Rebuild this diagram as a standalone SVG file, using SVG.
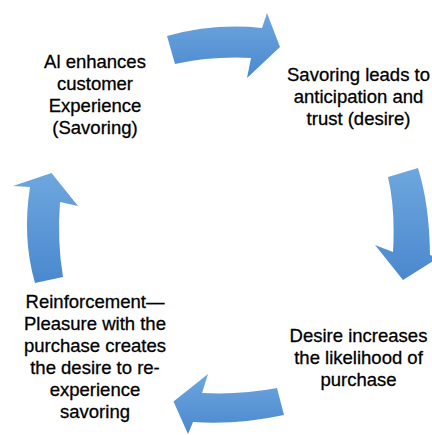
<svg xmlns="http://www.w3.org/2000/svg" width="432" height="435" viewBox="0 0 432 435">
  <style>
    .lbl { font-family: "Liberation Sans", Arial, sans-serif; font-size: 18.5px; fill: #000; stroke: #000; stroke-width: 0.3px; text-anchor: middle; }
    .arrow { fill: url(#blueFade); }
  </style>
  <defs>
    <linearGradient id="blueFade" x1="0" y1="0" x2="0" y2="1">
      <stop offset="0" stop-color="#6ea7de"/>
      <stop offset="1" stop-color="#4a88cf"/>
    </linearGradient>
  </defs>
  <rect width="432" height="435" fill="#ffffff"/>

  <!-- curved block arrows forming the cycle -->
  <g id="connectors">
    <path class="arrow" d="M167,36 Q214,23 262,28 L267,13 L280,47 L247,78 L251,58 Q212,56 175,64 Z"/>
    <path class="arrow" d="M388,177 Q395.5,209.5 393,252 L375,245 L403,280 L438,258 L430,255 Q429.5,205 418,168 Z"/>
    <path class="arrow" d="M277,388 Q241,395 202,393 L208,374 L173.5,401.5 L188,434 L193,422 Q238,425 284,415 Z"/>
    <path class="arrow" d="M35,283 Q22,238 30,187 L13,186 L51.5,173 L78,206 L60,202 Q57,241 63,277 Z"/>
  </g>

  <g id="node-savoring">
    <text class="lbl" x="95" y="68">Al enhances</text>
    <text class="lbl" x="95" y="90">customer</text>
    <text class="lbl" x="95" y="112">Experience</text>
    <text class="lbl" x="95" y="134">(Savoring)</text>
  </g>

  <g id="node-desire">
    <text class="lbl" x="358.5" y="81">Savoring leads to</text>
    <text class="lbl" x="358.5" y="103">anticipation and</text>
    <text class="lbl" x="358.5" y="125">trust (desire)</text>
  </g>

  <g id="node-purchase">
    <text class="lbl" x="358.5" y="342">Desire increases</text>
    <text class="lbl" x="358.5" y="364">the likelihood of</text>
    <text class="lbl" x="358.5" y="386">purchase</text>
  </g>

  <g id="node-reinforcement">
    <text class="lbl" x="95" y="308">Reinforcement—</text>
    <text class="lbl" x="95" y="330">Pleasure with the</text>
    <text class="lbl" x="95" y="352">purchase creates</text>
    <text class="lbl" x="95" y="374">the desire to re-</text>
    <text class="lbl" x="95" y="396">experience</text>
    <text class="lbl" x="95" y="418">savoring</text>
  </g>
</svg>
